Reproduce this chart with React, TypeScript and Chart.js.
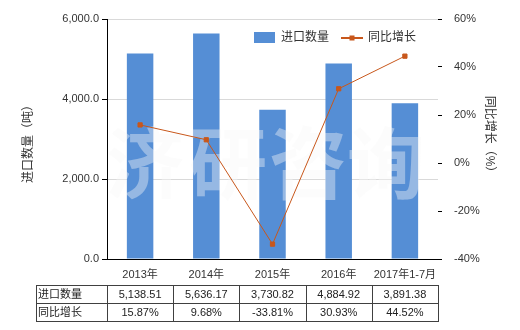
import React, { useEffect, useRef } from "react";
import { Chart, registerables } from "chart.js";

Chart.register(...registerables);

const categories = ["2013年", "2014年", "2015年", "2016年", "2017年1-7月"];
const importQty = [5138.51, 5636.17, 3730.82, 4884.92, 3891.38];
const yoyGrowth = [15.87, 9.68, -33.81, 30.93, 44.52];
const qtyLabels = ["5,138.51", "5,636.17", "3,730.82", "4,884.92", "3,891.38"];
const growthLabels = ["15.87%", "9.68%", "-33.81%", "30.93%", "44.52%"];
const seriesNames = ["进口数量", "同比增长"];
const leftTitle = "进口数量（吨）";
const rightTitle = "同比增长（%）";
const watermark = ["济", "研", "咨", "询"];

const FONT = "'Liberation Sans', 'Noto Sans CJK SC', sans-serif";
const BAR = "#558ED5";
const LINE = "#C8571B";
const TXT = "#333333";

const extras = {
  id: "extras",
  afterDatasetDraw(chart: any, args: any) {
    if (args.index !== 1) return;
    const ctx = chart.ctx;
    ctx.save();
    ctx.fillStyle = "rgba(248,248,248,0.4)";
    ctx.font = "bold 78px 'Noto Sans CJK SC', sans-serif";
    ctx.textAlign = "center";
    ctx.textBaseline = "middle";
    const xs = [145, 228, 308, 386];
    watermark.forEach((ch, i) => {
      ctx.fillText(ch, xs[i], 163);
    });
    ctx.restore();
  },
  afterDraw(chart: any) {
    const ctx = chart.ctx;
    const x = chart.scales.x;
    ctx.save();
    // axis titles
    ctx.fillStyle = TXT;
    ctx.font = "12px " + FONT;
    ctx.textAlign = "center";
    ctx.textBaseline = "middle";
    ctx.save();
    ctx.translate(29, 141);
    ctx.rotate(-Math.PI / 2);
    ctx.fillText(leftTitle, 0, 0);
    ctx.restore();
    ctx.save();
    ctx.translate(489, 137);
    ctx.rotate(Math.PI / 2);
    ctx.fillText(rightTitle, 0, 0);
    ctx.restore();

    // legend
    ctx.font = "12px " + FONT;
    ctx.textAlign = "left";
    ctx.fillStyle = BAR;
    ctx.fillRect(254, 32, 21, 11);
    ctx.fillStyle = TXT;
    ctx.fillText(seriesNames[0], 281, 38);
    ctx.strokeStyle = LINE;
    ctx.lineWidth = 2;
    ctx.beginPath();
    ctx.moveTo(341, 38);
    ctx.lineTo(363, 38);
    ctx.stroke();
    ctx.fillStyle = LINE;
    ctx.fillRect(349.5, 35.5, 5, 5);
    ctx.fillStyle = TXT;
    ctx.fillText(seriesNames[1], 368, 38);

    // table
    const n = categories.length;
    const step = x.getPixelForValue(1) - x.getPixelForValue(0);
    const bounds: number[] = [36];
    for (let i = 0; i < n; i++) bounds.push(x.getPixelForValue(i) - step / 2);
    bounds.push(x.getPixelForValue(n - 1) + step / 2);
    const top = 285, mid = 303, bot = 321;
    ctx.strokeStyle = "#404040";
    ctx.lineWidth = 1;
    ctx.beginPath();
    [top, mid, bot].forEach((yy) => {
      ctx.moveTo(bounds[0], yy + 0.5);
      ctx.lineTo(bounds[bounds.length - 1], yy + 0.5);
    });
    bounds.forEach((bx) => {
      const xx = Math.round(bx) + 0.5;
      ctx.moveTo(xx, top);
      ctx.lineTo(xx, bot + 1);
    });
    ctx.stroke();
    ctx.fillStyle = "#222";
    ctx.font = "11px " + FONT;
    ctx.textBaseline = "middle";
    ctx.textAlign = "left";
    ctx.fillText(seriesNames[0], 38, 294.5);
    ctx.fillText(seriesNames[1], 38, 312.5);
    ctx.textAlign = "center";
    for (let i = 0; i < n; i++) {
      const cx = x.getPixelForValue(i);
      ctx.fillText(qtyLabels[i], cx, 295);
      ctx.fillText(growthLabels[i], cx, 313);
    }
    ctx.restore();
  },
};

export default function App() {
  const ref = useRef<HTMLCanvasElement>(null);
  useEffect(() => {
    Chart.defaults.font.family = FONT;
    Chart.defaults.color = TXT;
    const chart = new Chart(ref.current!, {
      type: "bar",
      data: {
        labels: categories,
        datasets: [
          {
            type: "line",
            label: seriesNames[1],
            data: yoyGrowth,
            yAxisID: "y1",
            borderColor: LINE,
            backgroundColor: LINE,
            borderWidth: 1,
            pointStyle: "rect",
            pointRadius: 3,
            pointBackgroundColor: LINE,
            pointBorderColor: LINE,
            order: 0,
          } as any,
          {
            type: "bar",
            label: seriesNames[0],
            data: importQty,
            yAxisID: "y",
            backgroundColor: BAR,
            barPercentage: 0.4,
            categoryPercentage: 1,
            order: 1,
          },
        ],
      },
      options: {
        responsive: false,
        animation: false,
        layout: { padding: { top: 19, left: 0, right: 0, bottom: 0 } },
        plugins: { legend: { display: false }, tooltip: { enabled: false } },
        scales: {
          x: {
            grid: { display: false, drawTicks: false },
            border: { color: "#000", width: 1 },
            ticks: { padding: 9, font: { size: 11 }, color: TXT, maxRotation: 0 },
            afterFit: (s: any) => {
              s.height = 71;
            },
          },
          y: {
            position: "left",
            min: 0,
            max: 6000,
            ticks: {
              stepSize: 2000,
              padding: 3,
              font: { size: 11 },
              color: TXT,
              callback: (v: any) =>
                Number(v).toLocaleString("en-US", { minimumFractionDigits: 1, maximumFractionDigits: 1 }),
            },
            grid: { color: "#D9D9D9", tickColor: "#000", tickLength: 5 },
            border: { color: "#000", width: 1 },
            afterFit: (s: any) => {
              s.width = 107;
            },
          },
          y1: {
            position: "right",
            min: -40,
            max: 60,
            ticks: {
              stepSize: 20,
              padding: 12,
              font: { size: 11 },
              color: TXT,
              callback: (v: any) => v + "%",
            },
            grid: { drawOnChartArea: false, tickColor: "#000", tickLength: 4 },
            border: { display: false },
            afterFit: (s: any) => {
              s.width = 82;
            },
          },
        },
      },
      plugins: [extras],
    });
    return () => chart.destroy();
  }, []);
  return (
    <div style={{ position: "absolute", left: 0, top: 0, width: 520, height: 330, background: "#fff" }}>
      <canvas ref={ref} width={520} height={330} />
    </div>
  );
}
